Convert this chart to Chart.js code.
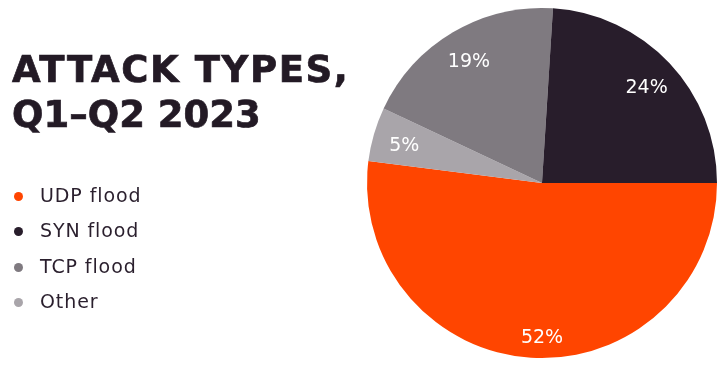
<!DOCTYPE html>
<html>
<head>
<meta charset="utf-8">
<script src="https://cdn.jsdelivr.net/npm/chart.js@4"></script>
<style>
  body { margin: 0; background: #fff; }
  #wrap { position: relative; width: 728px; height: 368px; overflow: hidden; }
  #pie { position: absolute; left: 0; top: 0; }
  h1 {
    position: absolute; left: 12px; top: 47px; margin: 0;
    font-family: "DejaVu Sans", sans-serif; font-weight: bold;
    font-size: 37px; line-height: 45px; color: #231a25; letter-spacing: 1.6px;
    -webkit-text-stroke: 0.7px #231a25;
  }
  h1 span { letter-spacing: 0; }
  #legend { position: absolute; left: 14px; top: 180px; margin: 0; padding: 0; list-style: none; }
  #legend li {
    height: 35.3px; line-height: 30px;
    font-family: "DejaVu Sans", sans-serif; font-size: 19px; color: #2a1f2d;
    letter-spacing: 0.9px;
  }
  #legend span.dot {
    display: inline-block; width: 9px; height: 9px; border-radius: 50%;
    margin-right: 17px; vertical-align: 1px;
  }
</style>
</head>
<body>
<div id="wrap">
  <canvas id="pie" width="728" height="368"></canvas>
  <h1>ATTACK TYPES,<br><span>Q1–Q2 2023</span></h1>
  <ul id="legend"></ul>
</div>
<script>
// slices in clockwise order, starting at 3 o'clock
const categories = ['UDP flood', 'Other', 'TCP flood', 'SYN flood'];
const shares = [52, 5, 19, 24];
const colors = ['#ff4500', '#a9a5aa', '#7f7a80', '#281d2b'];
// legend order as in the picture
const legendOrder = ['UDP flood', 'SYN flood', 'TCP flood', 'Other'];

const legend = document.getElementById('legend');
legendOrder.forEach(function (name) {
  const i = categories.indexOf(name);
  const li = document.createElement('li');
  li.innerHTML = '<span class="dot" style="background:' + colors[i] + '"></span>' + name;
  legend.appendChild(li);
});

const sliceLabels = {
  id: 'sliceLabels',
  afterDatasetsDraw(chart) {
    const ctx = chart.ctx;
    const meta = chart.getDatasetMeta(0);
    ctx.save();
    ctx.fillStyle = '#fff';
    ctx.font = '19px "DejaVu Sans", sans-serif';
    ctx.textAlign = 'center';
    ctx.textBaseline = 'middle';
    meta.data.forEach(function (arc, i) {
      const p = arc.getProps(['x', 'y', 'startAngle', 'endAngle', 'outerRadius'], true);
      let mid = (p.startAngle + p.endAngle) / 2;
      // big slice label sits straight below the centre
      if (shares[i] > 50) mid = Math.PI / 2;
      const r = p.outerRadius * (shares[i] > 50 ? 0.87 : 0.82);
      ctx.fillText(shares[i] + '%', p.x + Math.cos(mid) * r, p.y + Math.sin(mid) * r + 3);
    });
    ctx.restore();
  }
};

new Chart(document.getElementById('pie'), {
  type: 'pie',
  data: {
    labels: categories,
    datasets: [{
      data: shares,
      backgroundColor: colors,
      borderWidth: 0
    }]
  },
  options: {
    responsive: false,
    animation: false,
    rotation: 90,
    layout: { padding: { left: 367, right: 11, top: 8, bottom: 10 } },
    plugins: {
      legend: { display: false },
      tooltip: { enabled: false }
    }
  },
  plugins: [sliceLabels]
});
</script>
</body>
</html>
